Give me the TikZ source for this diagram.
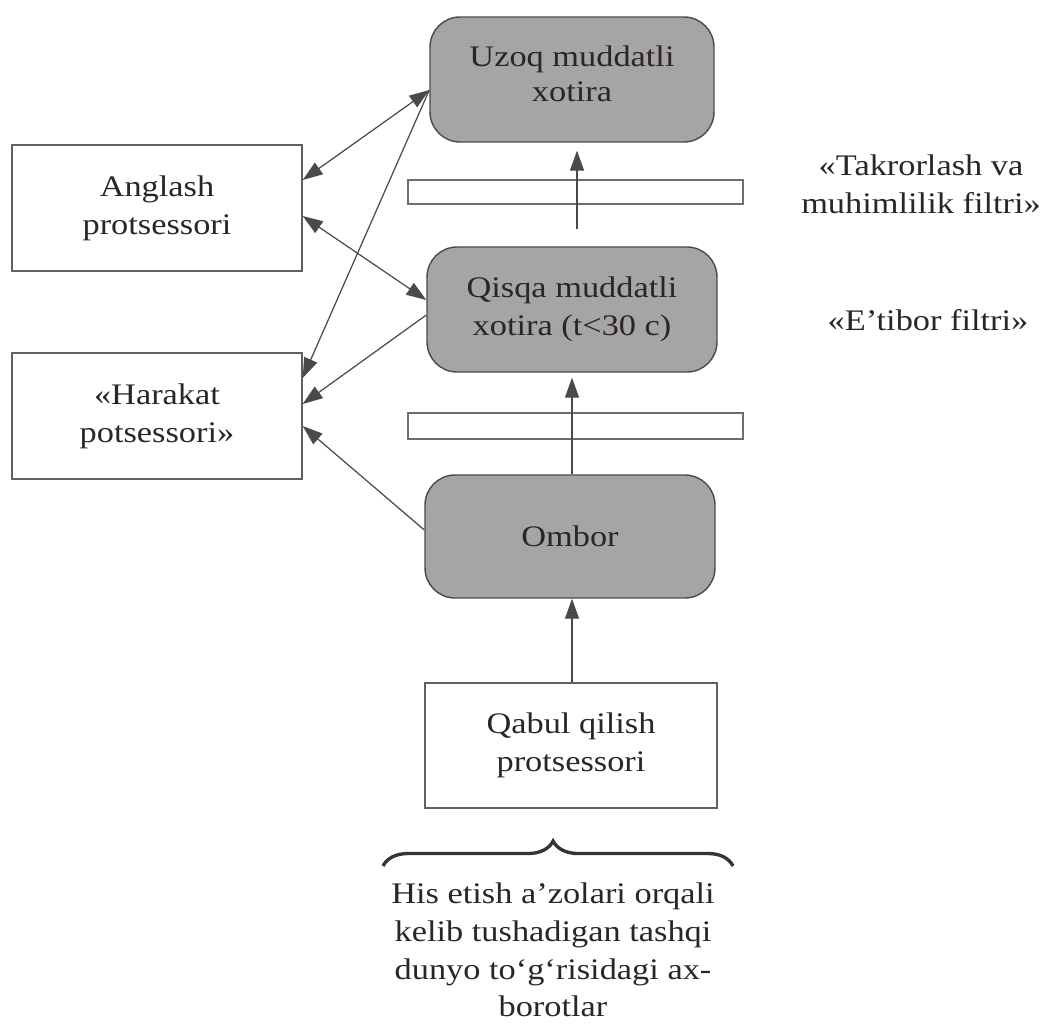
\documentclass[tikz,border=0pt]{standalone}
\usepackage{fontspec}
\setmainfont{Liberation Serif}[FakeStretch=1.15]
\usetikzlibrary{arrows.meta,decorations.pathreplacing}
\definecolor{memfill}{HTML}{A6A4A7}
\definecolor{edge}{HTML}{4A4A4A}
\definecolor{txt}{HTML}{2A2626}
\definecolor{bord}{HTML}{5A6266}
\tikzset{
  lbl/.style={font=\fontsize{17pt}{21.5pt}\selectfont, text=txt, align=center},
  memory/.style={lbl, draw=edge, line width=0.8pt, fill=memfill, rounded corners=0.6cm, inner sep=0pt},
  proc/.style={lbl, draw=bord, line width=0.8pt, fill=white, inner sep=0pt},
  filterbar/.style={draw=edge!80, line width=0.7pt, fill=white, inner sep=0pt, minimum width=6.7cm},
  arr/.style={draw=edge, line width=0.7pt, -{Triangle[length=0.4cm,width=0.28cm]}},
  arrboth/.style={draw=edge, line width=0.7pt, {Triangle[length=0.4cm,width=0.28cm]}-{Triangle[length=0.4cm,width=0.28cm]}}
}
\begin{document}
\begin{tikzpicture}[x=0.02cm, y=-0.02cm]
\useasboundingbox[fill=white] (0,0) rectangle (1050,1027);

% memory blocks
\node[memory, minimum width=5.68cm, minimum height=2.5cm] (U) at (572,79.5) {\raisebox{0.22cm}{\shortstack{Uzoq muddatli\\[2pt]xotira}}};
\node[memory, minimum width=5.8cm, minimum height=2.5cm] (Q) at (572,309.5) {Qisqa muddatli\\xotira (t<30 c)};
\node[memory, minimum width=5.8cm, minimum height=2.46cm] (O) at (570,536.5) {Ombor};
\node[proc, minimum width=5.84cm, minimum height=2.5cm] (R) at (571,745.5) {Qabul qilish\\protsessori};

% processors on the left
\node[proc, minimum width=5.8cm, minimum height=2.52cm] (A) at (157,208) {Anglash\\protsessori};
\node[proc, minimum width=5.8cm, minimum height=2.52cm] (H) at (157,416) {«Harakat\\potsessori»};

% filter bars
\node[filterbar, minimum height=0.48cm] (F1) at (575.5,192) {};
\node[filterbar, minimum height=0.52cm] (F2) at (575.5,426) {};

% filter labels
\node[lbl] (T1) at (921,184) {«Takrorlash va\\muhimlilik filtri»};
\node[lbl] (T2) at (928,320) {«E’tibor filtri»};

% vertical flow
\draw[arr] ([xshift=0.02cm]R.north) -- ([xshift=0.02cm]R.north |- O.south);
\draw[arr, shorten >=0.1cm] (O.north -| Q.south) -- (Q.south);
\draw[arr, shorten <=0.34cm, shorten >=0.16cm] ([xshift=0.1cm]Q.north) -- ([xshift=0.1cm]U.south);

% diagonal connectors
\draw[arrboth] ([yshift=0.56cm]A.east) -- ([yshift=-0.21cm]U.west);
\draw[arr] ([yshift=-0.21cm]U.west) -- ([yshift=0.76cm]H.east);
\draw[arrboth] ([yshift=-0.16cm]A.east) -- ([yshift=0.19cm]Q.west);
\draw[arr] ([yshift=-0.11cm]Q.west) -- ([yshift=0.24cm]H.east);
\draw[arr] ([yshift=0.13cm]O.west) -- ([yshift=-0.2cm]H.east);

% brace and input text
\coordinate (bl) at (383,866);
\coordinate (br) at (733,866);
\draw[edge!70!black, line width=1.9pt, decorate, decoration={brace, amplitude=0.5cm, aspect=0.486}] (bl) -- (br);
\node[lbl] (S) at (553,950) {His etish a’zolari orqali\\kelib tushadigan tashqi\\dunyo to‘g‘risidagi ax-\\borotlar};
\end{tikzpicture}
\end{document}
